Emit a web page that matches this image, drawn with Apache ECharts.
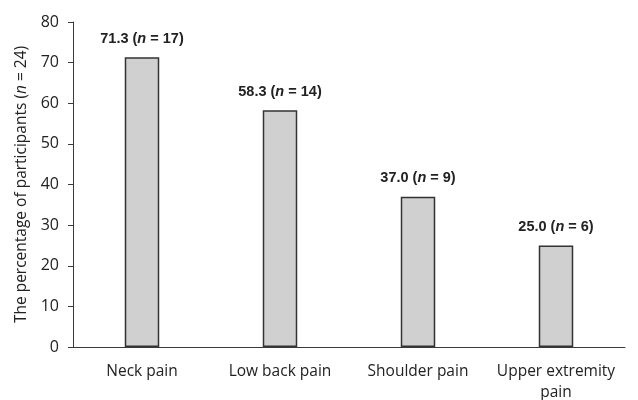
<!DOCTYPE html>
<html>
<head>
<meta charset="utf-8">
<script src="https://cdn.jsdelivr.net/npm/echarts@6/dist/echarts.min.js"></script>
<style>
  html, body { margin: 0; padding: 0; background: #fff; }
  #chart { width: 638px; height: 400px; }
</style>
</head>
<body>
<div id="chart"></div>
<script>
// data
var categories = ['Neck pain', 'Low back pain', 'Shoulder pain', 'Upper extremity\npain'];
var percents = [71.3, 58.3, 37.0, 25.0];
var counts = [17, 14, 9, 6];
var yTicks = [0, 10, 20, 30, 40, 50, 60, 70, 80];

var FONT = '"Open Sans", "Liberation Sans", sans-serif';
var BOLD_FONT = '"Liberation Sans", sans-serif';
var chart = echarts.init(document.getElementById('chart'));

chart.setOption({
  animation: false,
  textStyle: { fontFamily: FONT },
  grid: { left: 73, right: 13, top: 22, bottom: 53, outerBoundsMode: 'none', containLabel: false },
  xAxis: {
    type: 'category',
    data: categories,
    axisLine: { lineStyle: { color: '#3a3a3a', width: 1 } },
    axisTick: { show: false },
    axisLabel: { interval: 0, color: '#222', fontSize: 15.5, margin: 14, lineHeight: 21, fontFamily: FONT }
  },
  yAxis: {
    type: 'value',
    min: yTicks[0],
    max: yTicks[yTicks.length - 1],
    interval: 10,
    splitLine: { show: false },
    axisLine: { show: true, lineStyle: { color: '#3a3a3a', width: 1 } },
    axisTick: { show: true, length: 5, lineStyle: { color: '#3a3a3a' } },
    axisLabel: { color: '#222', fontSize: 16, margin: 14, fontFamily: FONT },
    name: '{a|The percentage of participants (}{i|n}{a| = 24)}',
    nameLocation: 'middle',
    nameGap: 43,
    nameTextStyle: {
      rich: {
        a: { fontSize: 15.5, color: '#222', fontFamily: FONT },
        i: { fontSize: 15.5, color: '#222', fontStyle: 'italic', fontFamily: FONT }
      }
    }
  },
  series: [{
    type: 'bar',
    data: percents,
    barWidth: '25%',
    itemStyle: { color: '#d0d0d0', borderColor: '#333', borderWidth: 1.5 },
    label: {
      show: true,
      position: 'top',
      distance: 11,
      formatter: function (p) {
        return '{b|' + p.value.toFixed(1) + ' (}{i|n}{b| = ' + counts[p.dataIndex] + ')}';
      },
      rich: {
        b: { fontSize: 14.5, fontWeight: 'bold', color: '#222', fontFamily: BOLD_FONT },
        i: { fontSize: 14.5, fontWeight: 'bold', fontStyle: 'italic', color: '#222', fontFamily: BOLD_FONT }
      }
    }
  }]
});
</script>
</body>
</html>
